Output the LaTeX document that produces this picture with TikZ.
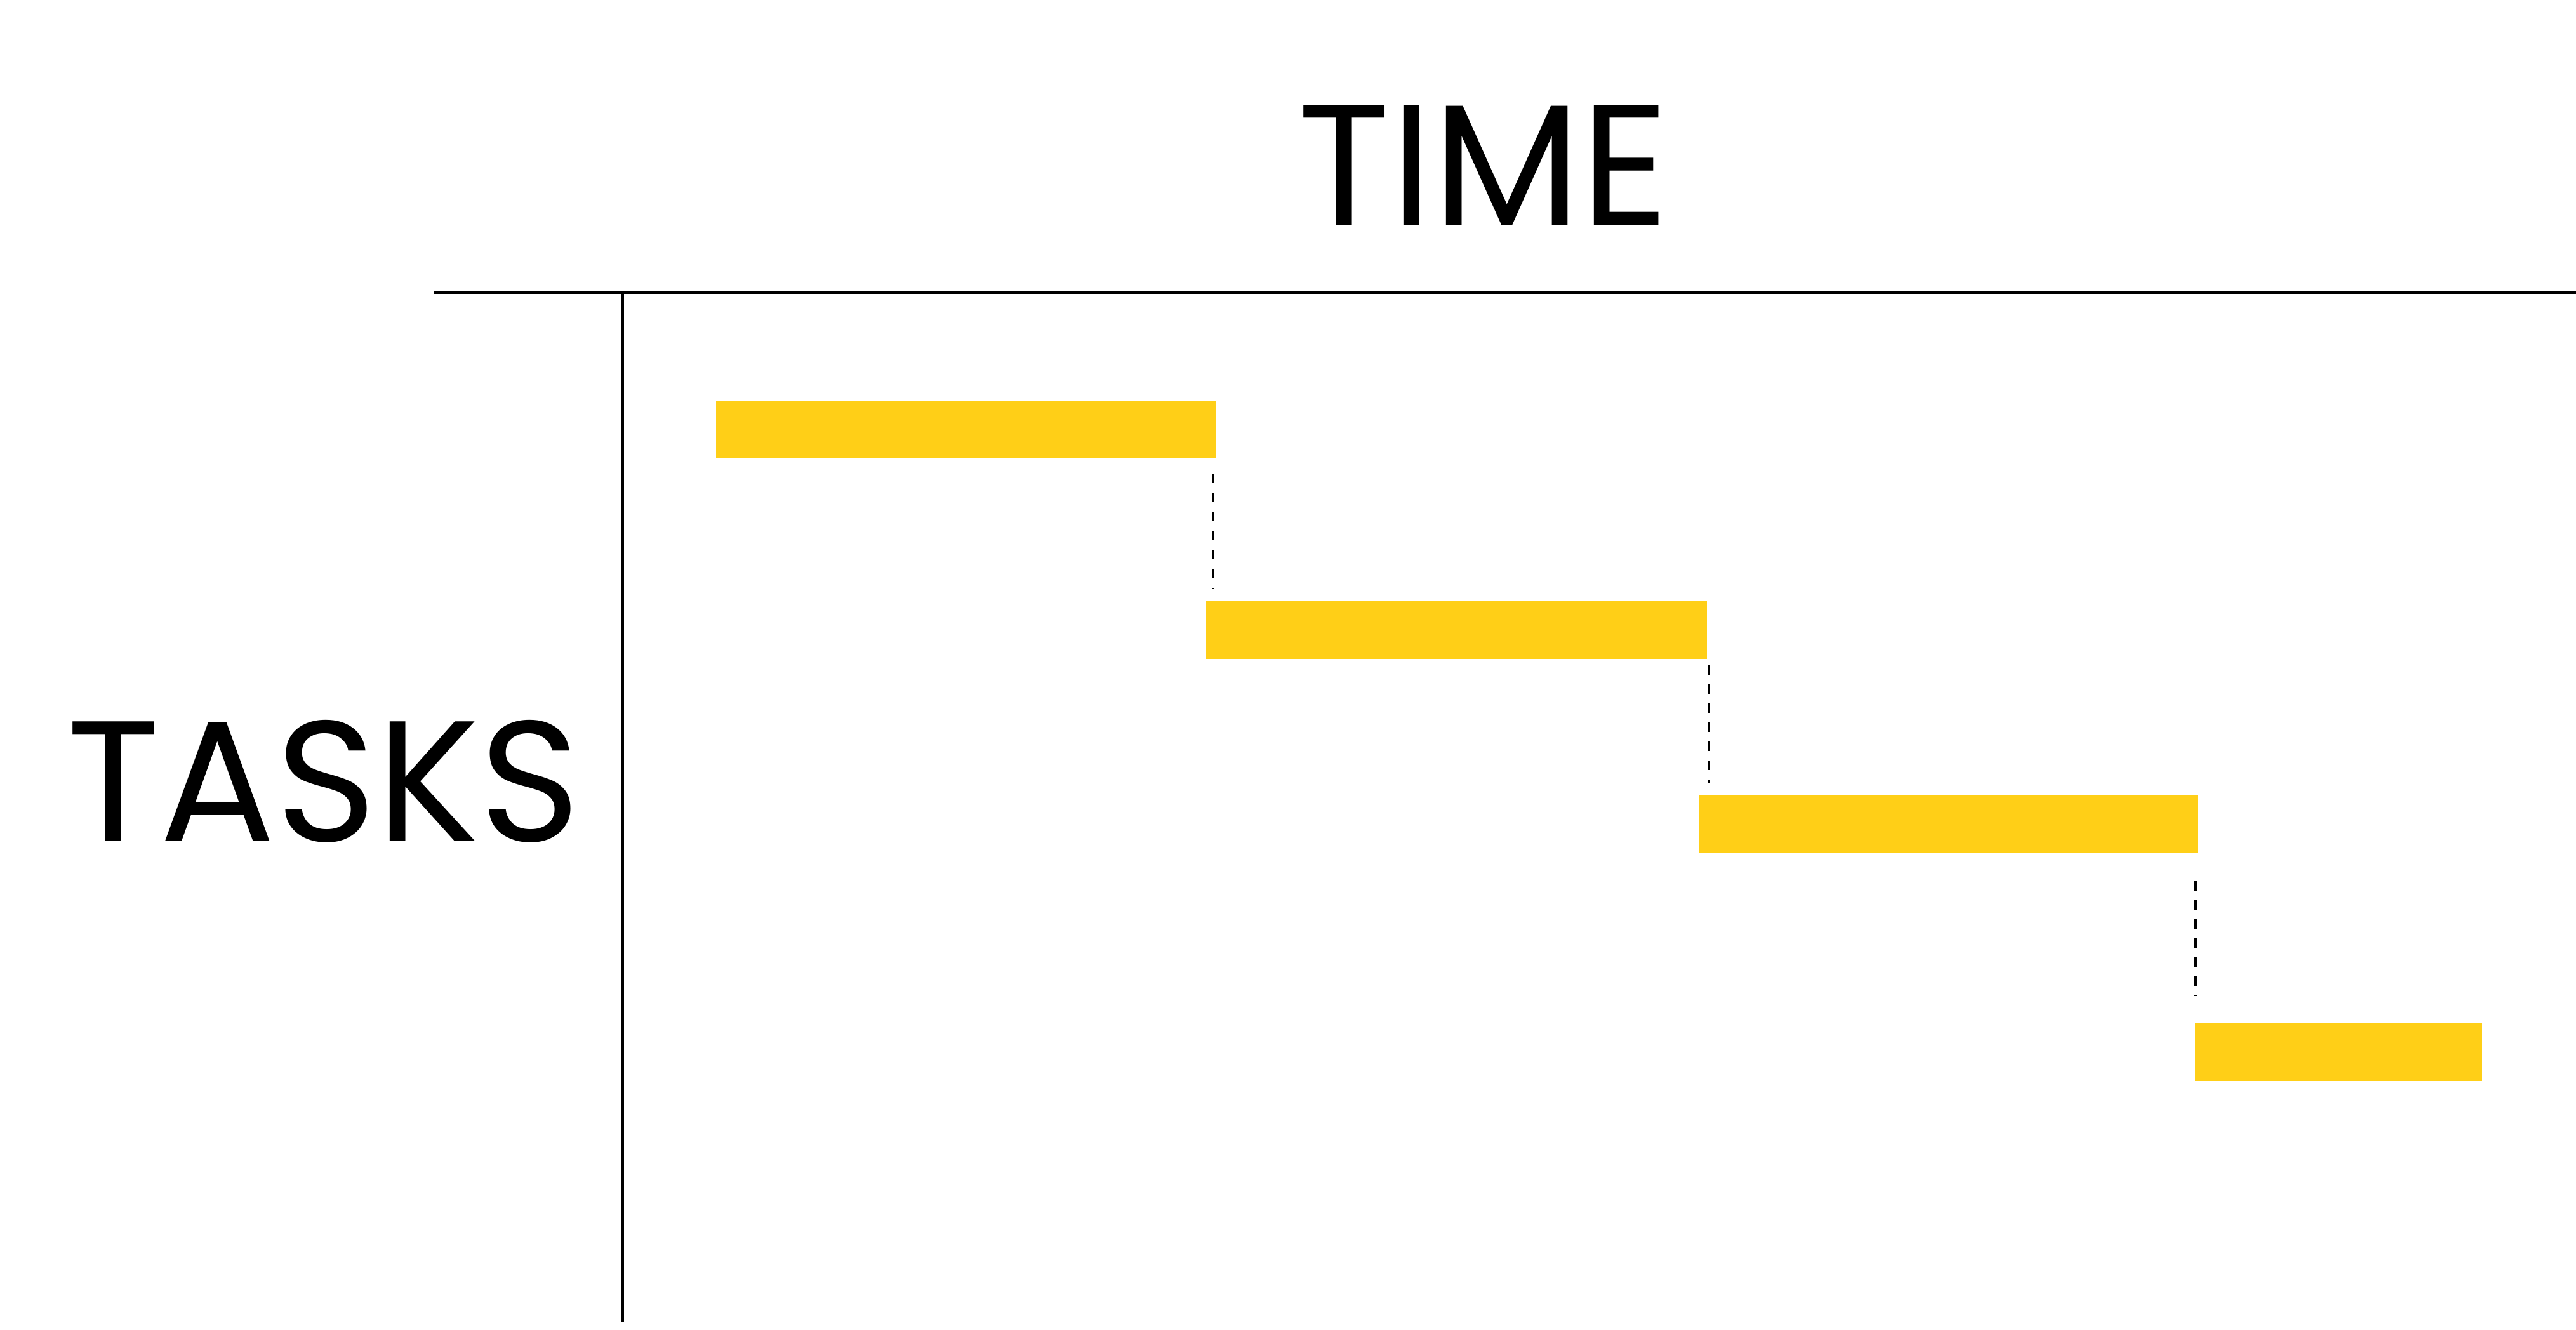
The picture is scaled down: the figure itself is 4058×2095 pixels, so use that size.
\documentclass[tikz,border=0pt]{standalone}
\usepackage{fontspec}
\setmainfont{Poppins}
\usepackage{xcolor}
\usepackage{tikz}
\usetikzlibrary{positioning}
\definecolor{taskyellow}{HTML}{FFCF17}

\begin{document}
\begin{tikzpicture}[x=0.01cm,y=-0.01cm]
        \useasboundingbox (0,0) rectangle (4058,2095);
        % axes
        \coordinate (tl) at (683,461);
        \coordinate (tr) at (4058,461);
        \coordinate (vt) at (981,461);
        \coordinate (vb) at (981,2083);
        \begin{scope}[every node/.style={font=\fontsize{77}{80}\selectfont,anchor=base,inner sep=0}]
          \node (time) at (2337,355) {TIME};
          \node (tasks) at (510,1325) {TASKS};
        \end{scope}
        \draw[line width=1.3pt] (tl) -- (tr);
        \draw[line width=1.3pt] (vt) -- (vb);
        \begin{scope}[every node/.style={fill=taskyellow,inner sep=0,minimum height=0.91cm}]
          \node[minimum width=7.87cm] (t1) at (1521.5,676.5) {};
          \node[minimum width=7.89cm] (t2) at (2294.5,992.5) {};
          \node[minimum width=7.87cm] (t3) at (3069.5,1298) {};
          \node[minimum width=4.52cm] (t4) at (3684,1657.5) {};
        \end{scope}
        \begin{scope}[every path/.style={draw=black,line width=1.1pt,dash pattern=on 0.15cm off 0.15cm}]
          \path ([xshift=-0.05cm,yshift=-0.23cm]t1.south east) edge ([xshift=-0.05cm,yshift=0.19cm]t1.south east |- t2.north);
          \path ([xshift=0.02cm,yshift=-0.09cm]t2.south east) edge ([xshift=0.02cm,yshift=0.19cm]t2.south east |- t3.north);
          \path ([xshift=-0.05cm,yshift=-0.44cm]t3.south east) edge ([xshift=-0.05cm,yshift=0.42cm]t3.south east |- t4.north);
        \end{scope}
      \end{tikzpicture}
\end{document}
